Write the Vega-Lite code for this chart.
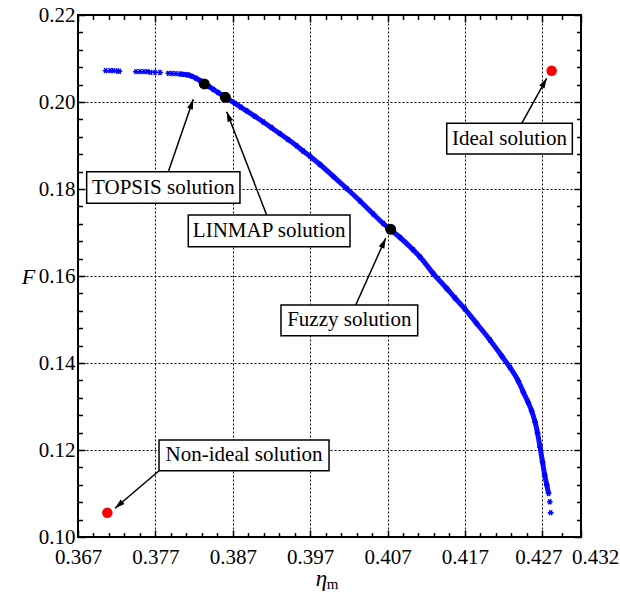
{
  "$schema": "https://vega.github.io/schema/vega-lite/v6.json",
  "width": 503,
  "height": 522,
  "autosize": {"type": "none"},
  "padding": {"left": 78, "top": 15, "right": 39, "bottom": 57},
  "background": "white",
  "config": {
    "view": {"stroke": "black", "strokeWidth": 2},
    "font": "Liberation Serif",
    "axis": {
      "labelFont": "Liberation Serif",
      "labelFontSize": 21,
      "labelColor": "black",
      "titleFont": "Liberation Serif",
      "titleColor": "black",
      "titleFontWeight": "normal",
      "tickColor": "black",
      "tickWidth": 1.5,
      "gridColor": "black",
      "gridDash": [2, 2],
      "gridWidth": 1,
      "gridOpacity": 1,
      "domain": false
    }
  },
  "datasets": {
    "curve": [
      {"eta": 0.37058, "F": 0.2072}, {"eta": 0.37114, "F": 0.2072}, {"eta": 0.37156, "F": 0.2072},
      {"eta": 0.37208, "F": 0.20713}, {"eta": 0.37234, "F": 0.20706}, {"eta": 0.37449, "F": 0.20697},
      {"eta": 0.37501, "F": 0.20697}, {"eta": 0.37553, "F": 0.20697}, {"eta": 0.37596, "F": 0.20697},
      {"eta": 0.37639, "F": 0.20683}, {"eta": 0.37695, "F": 0.20683}, {"eta": 0.3776, "F": 0.20678},
      {"eta": 0.37867, "F": 0.2066}, {"eta": 0.37915, "F": 0.20655}, {"eta": 0.37966, "F": 0.20651},
      {"eta": 0.38018, "F": 0.20644}, {"eta": 0.3807, "F": 0.20635}, {"eta": 0.38121, "F": 0.20621},
      {"eta": 0.38173, "F": 0.20591}, {"eta": 0.38225, "F": 0.20547}, {"eta": 0.38277, "F": 0.20492},
      {"eta": 0.38341, "F": 0.20414}, {"eta": 0.38393, "F": 0.20352}, {"eta": 0.38448, "F": 0.20292},
      {"eta": 0.38509, "F": 0.20223}, {"eta": 0.38561, "F": 0.20161}, {"eta": 0.38604, "F": 0.20108},
      {"eta": 0.38651, "F": 0.20057}, {"eta": 0.38729, "F": 0.1997}, {"eta": 0.38806, "F": 0.1988},
      {"eta": 0.3888, "F": 0.19795}, {"eta": 0.38987, "F": 0.19669}, {"eta": 0.39095, "F": 0.1954},
      {"eta": 0.39201, "F": 0.19409}, {"eta": 0.3931, "F": 0.19271}, {"eta": 0.39414, "F": 0.19138},
      {"eta": 0.39526, "F": 0.18991}, {"eta": 0.39608, "F": 0.18874}, {"eta": 0.39698, "F": 0.18754},
      {"eta": 0.39827, "F": 0.18563}, {"eta": 0.39999, "F": 0.18292}, {"eta": 0.40172, "F": 0.18011},
      {"eta": 0.40344, "F": 0.17724}, {"eta": 0.40516, "F": 0.17425}, {"eta": 0.40645, "F": 0.17207},
      {"eta": 0.40745, "F": 0.17057}, {"eta": 0.40861, "F": 0.16885}, {"eta": 0.41033, "F": 0.16598},
      {"eta": 0.4112, "F": 0.16437}, {"eta": 0.41291, "F": 0.16057}, {"eta": 0.41465, "F": 0.15713},
      {"eta": 0.41572, "F": 0.15494}, {"eta": 0.41701, "F": 0.15241}, {"eta": 0.41852, "F": 0.14908},
      {"eta": 0.42024, "F": 0.14529}, {"eta": 0.42175, "F": 0.14161}, {"eta": 0.42283, "F": 0.13897},
      {"eta": 0.4239, "F": 0.13586}, {"eta": 0.42454, "F": 0.13333}, {"eta": 0.42515, "F": 0.13103},
      {"eta": 0.42563, "F": 0.12897}, {"eta": 0.42606, "F": 0.12644}, {"eta": 0.42638, "F": 0.12391},
      {"eta": 0.4267, "F": 0.12069}, {"eta": 0.42703, "F": 0.11724}, {"eta": 0.42731, "F": 0.11425},
      {"eta": 0.42758, "F": 0.11195}, {"eta": 0.42781, "F": 0.11}, {"eta": 0.42797, "F": 0.10811},
      {"eta": 0.42808, "F": 0.10559}
    ],
    "sol": [
      {"name": "Ideal", "eta": 0.42821, "F": 0.2072, "kind": "ideal"},
      {"name": "Non-ideal", "eta": 0.37079, "F": 0.10559, "kind": "ideal"},
      {"name": "TOPSIS", "eta": 0.38332, "F": 0.20414, "kind": "decision"},
      {"name": "LINMAP", "eta": 0.38604, "F": 0.20108, "kind": "decision"},
      {"name": "Fuzzy", "eta": 0.40741, "F": 0.17074, "kind": "decision"}
    ],
    "ann": [
      {"label": "Ideal solution", "bx1": 0.41465, "bx2": 0.43088, "by1": 0.1951, "by2": 0.18805, "tx": 0.42276, "ty": 0.19158, "ax": 0.42434, "ay": 0.1951, "hx": 0.42757, "hy": 0.20545},
      {"label": "TOPSIS solution", "bx1": 0.36812, "bx2": 0.38793, "by1": 0.18398, "by2": 0.17671, "tx": 0.37803, "ty": 0.18034, "ax": 0.37867, "ay": 0.18398, "hx": 0.3819, "hy": 0.20062},
      {"label": "LINMAP solution", "bx1": 0.38125, "bx2": 0.40215, "by1": 0.17402, "by2": 0.16674, "tx": 0.3917, "ty": 0.17038, "ax": 0.39138, "ay": 0.17402, "hx": 0.38622, "hy": 0.19777},
      {"label": "Fuzzy solution", "bx1": 0.39323, "bx2": 0.4109, "by1": 0.15333, "by2": 0.14628, "tx": 0.40206, "ty": 0.14981, "ax": 0.40289, "ay": 0.15333, "hx": 0.40676, "hy": 0.16867},
      {"label": "Non-ideal solution", "bx1": 0.37747, "bx2": 0.39944, "by1": 0.1223, "by2": 0.11524, "tx": 0.38846, "ty": 0.11877, "ax": 0.37747, "ay": 0.11524, "hx": 0.37178, "hy": 0.1066}
    ],
    "sub": [
      {"text": "m", "eta": 0.3999, "F": 0.08805}
    ]
  },
  "resolve": {"axis": {"x": "independent", "y": "independent"}},
  "layer": [
    {
      "data": {"name": "curve"},
      "transform": [{"filter": "datum.eta >= 0.38 && datum.F >= 0.110"}],
      "mark": {"type": "line", "color": "#0000ff", "strokeWidth": 5, "opacity": 0.95, "interpolate": "monotone"},
      "encoding": {
        "x": {
          "field": "eta", "type": "quantitative",
          "scale": {"domain": [0.367, 0.432], "nice": false, "zero": false},
          "axis": {
            "orient": "bottom",
            "values": [0.367, 0.377, 0.387, 0.397, 0.407, 0.417, 0.427, 0.432],
            "format": ".3f", "grid": true, "ticks": false, "labelPadding": 9,
            "labelFlush": false, "labelOverlap": false, "labelBound": false,
            "labelOffset": {"condition": [{"test": "datum.value > 0.4315", "value": 14}, {"test": "datum.value > 0.426 && datum.value < 0.428", "value": -4}], "value": 0},
            "title": "η", "titleFontStyle": "italic", "titleFontSize": 23,
            "titleX": 243, "titleY": 48, "titleBaseline": "alphabetic", "titleAlign": "center"
          }
        },
        "y": {
          "field": "F", "type": "quantitative",
          "scale": {"domain": [0.1, 0.22], "nice": false, "zero": false},
          "axis": {
            "orient": "left",
            "values": [0.1, 0.12, 0.14, 0.16, 0.18, 0.2, 0.22],
            "format": ".2f", "grid": true, "ticks": false, "labelPadding": 3,
            "labelFlush": false, "labelOverlap": false, "labelBound": false,
            "title": "F", "titleAngle": 0, "titleFontStyle": "italic", "titleFontSize": 22,
            "titleX": -50, "titleY": 261, "titleAlign": "center", "titleBaseline": "middle"
          }
        }
      }
    },
    {
      "data": {"name": "curve"},
      "mark": {"type": "point", "shape": "M-1,0L1,0M-0.5,-0.87L0.5,0.87M-0.5,0.87L0.5,-0.87", "filled": false, "color": "#0000ff", "size": 34, "strokeWidth": 1.5, "opacity": 1},
      "encoding": {
        "x": {
          "field": "eta", "type": "quantitative",
          "scale": {"domain": [0.367, 0.432], "nice": false, "zero": false},
          "axis": {"orient": "bottom", "values": [0.367, 0.377, 0.387, 0.397, 0.407, 0.417, 0.427, 0.432], "labels": false, "grid": false, "ticks": true, "tickSize": -7, "title": null}
        },
        "y": {
          "field": "F", "type": "quantitative",
          "scale": {"domain": [0.1, 0.22], "nice": false, "zero": false},
          "axis": {"orient": "left", "values": [0.1, 0.12, 0.14, 0.16, 0.18, 0.2, 0.22], "labels": false, "grid": false, "ticks": true, "tickSize": -7, "title": null}
        }
      }
    },
    {
      "data": {"name": "sol"},
      "transform": [{"filter": "datum.kind == 'ideal'"}],
      "mark": {"type": "circle", "color": "#ff0000", "size": 110, "opacity": 1},
      "encoding": {
        "x": {
          "field": "eta", "type": "quantitative",
          "scale": {"domain": [0.367, 0.432], "nice": false, "zero": false},
          "axis": {"orient": "top", "values": [0.367, 0.377, 0.387, 0.397, 0.407, 0.417, 0.427, 0.432], "labels": false, "grid": false, "ticks": true, "tickSize": -7, "title": null}
        },
        "y": {
          "field": "F", "type": "quantitative",
          "scale": {"domain": [0.1, 0.22], "nice": false, "zero": false},
          "axis": {"orient": "right", "values": [0.1, 0.12, 0.14, 0.16, 0.18, 0.2, 0.22], "labels": false, "grid": false, "ticks": true, "tickSize": -7, "title": null}
        }
      }
    },
    {
      "data": {"name": "sol"},
      "transform": [{"filter": "datum.kind == 'decision'"}],
      "mark": {"type": "circle", "color": "#000000", "size": 120, "opacity": 1},
      "encoding": {
        "x": {
          "field": "eta", "type": "quantitative",
          "scale": {"domain": [0.367, 0.432], "nice": false, "zero": false},
          "axis": {"orient": "bottom", "values": [0.369, 0.371, 0.373, 0.375, 0.379, 0.381, 0.383, 0.385, 0.389, 0.391, 0.393, 0.395, 0.399, 0.401, 0.403, 0.405, 0.409, 0.411, 0.413, 0.415, 0.419, 0.421, 0.423, 0.425, 0.4295], "labels": false, "grid": false, "ticks": true, "tickSize": -4.5, "title": null}
        },
        "y": {
          "field": "F", "type": "quantitative",
          "scale": {"domain": [0.1, 0.22], "nice": false, "zero": false},
          "axis": {"orient": "left", "values": [0.104, 0.108, 0.112, 0.116, 0.124, 0.128, 0.132, 0.136, 0.144, 0.148, 0.152, 0.156, 0.164, 0.168, 0.172, 0.176, 0.184, 0.188, 0.192, 0.196, 0.204, 0.208, 0.212, 0.216], "labels": false, "grid": false, "ticks": true, "tickSize": -4.5, "title": null}
        }
      }
    },
    {
      "data": {"name": "ann"},
      "mark": {"type": "rule", "color": "black", "strokeWidth": 1.5},
      "encoding": {
        "x": {
          "field": "ax", "type": "quantitative",
          "scale": {"domain": [0.367, 0.432], "nice": false, "zero": false},
          "axis": {"orient": "top", "values": [0.369, 0.371, 0.373, 0.375, 0.379, 0.381, 0.383, 0.385, 0.389, 0.391, 0.393, 0.395, 0.399, 0.401, 0.403, 0.405, 0.409, 0.411, 0.413, 0.415, 0.419, 0.421, 0.423, 0.425, 0.4295], "labels": false, "grid": false, "ticks": true, "tickSize": -4.5, "title": null}
        },
        "x2": {"field": "hx"},
        "y": {
          "field": "ay", "type": "quantitative",
          "scale": {"domain": [0.1, 0.22], "nice": false, "zero": false},
          "axis": {"orient": "right", "values": [0.104, 0.108, 0.112, 0.116, 0.124, 0.128, 0.132, 0.136, 0.144, 0.148, 0.152, 0.156, 0.164, 0.168, 0.172, 0.176, 0.184, 0.188, 0.192, 0.196, 0.204, 0.208, 0.212, 0.216], "labels": false, "grid": false, "ticks": true, "tickSize": -4.5, "title": null}
        },
        "y2": {"field": "hy"}
      }
    },
    {
      "data": {"name": "ann"},
      "transform": [{"calculate": "atan2((datum.hx - datum.ax) * 7738.5, (datum.hy - datum.ay) * 4350) * 180 / PI", "as": "ang"}],
      "mark": {"type": "point", "shape": "M0,0L0.6,2L-0.6,2Z", "filled": true, "color": "black", "size": 100, "opacity": 1, "strokeWidth": 0},
      "encoding": {
        "x": {"field": "hx", "type": "quantitative", "scale": {"domain": [0.367, 0.432], "nice": false, "zero": false}, "axis": null},
        "y": {"field": "hy", "type": "quantitative", "scale": {"domain": [0.1, 0.22], "nice": false, "zero": false}, "axis": null},
        "angle": {"field": "ang", "type": "quantitative", "scale": null}
      }
    },
    {
      "data": {"name": "ann"},
      "mark": {"type": "rect", "fill": "white", "stroke": "black", "strokeWidth": 1.5},
      "encoding": {
        "x": {"field": "bx1", "type": "quantitative", "scale": {"domain": [0.367, 0.432], "nice": false, "zero": false}, "axis": null},
        "x2": {"field": "bx2"},
        "y": {"field": "by1", "type": "quantitative", "scale": {"domain": [0.1, 0.22], "nice": false, "zero": false}, "axis": null},
        "y2": {"field": "by2"}
      }
    },
    {
      "data": {"name": "ann"},
      "mark": {"type": "text", "font": "Liberation Serif", "fontSize": 21, "color": "black", "align": "center", "baseline": "middle"},
      "encoding": {
        "x": {"field": "tx", "type": "quantitative", "scale": {"domain": [0.367, 0.432], "nice": false, "zero": false}, "axis": null},
        "y": {"field": "ty", "type": "quantitative", "scale": {"domain": [0.1, 0.22], "nice": false, "zero": false}, "axis": null},
        "text": {"field": "label"}
      }
    },
    {
      "data": {"name": "sub"},
      "mark": {"type": "text", "font": "Liberation Serif", "fontSize": 15, "color": "black", "align": "center", "baseline": "alphabetic", "clip": false},
      "encoding": {
        "x": {"field": "eta", "type": "quantitative", "scale": {"domain": [0.367, 0.432], "nice": false, "zero": false}, "axis": null},
        "y": {"field": "F", "type": "quantitative", "scale": {"domain": [0.1, 0.22], "nice": false, "zero": false}, "axis": null},
        "text": {"field": "text"}
      }
    }
  ]
}
